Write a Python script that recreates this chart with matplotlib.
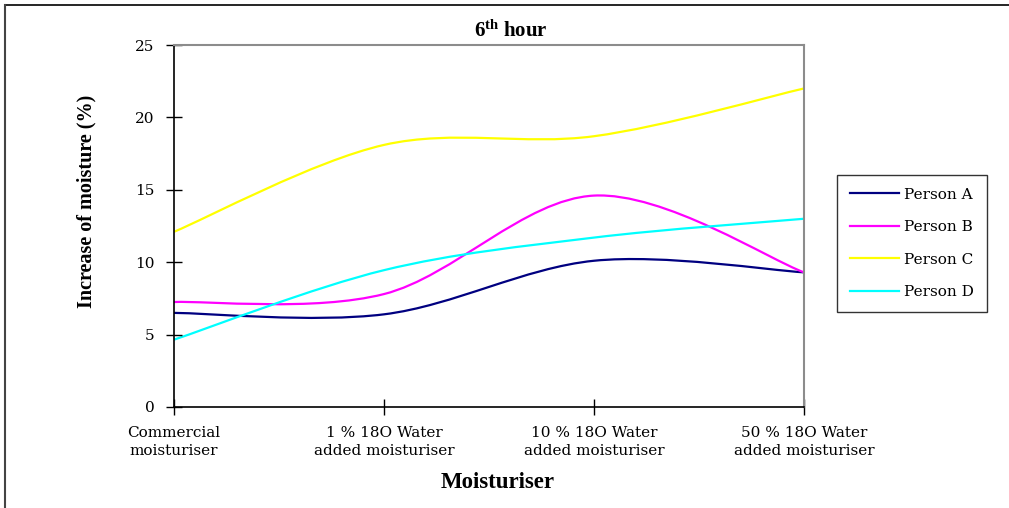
import matplotlib
matplotlib.use('Agg')
import matplotlib.pyplot as plt
from matplotlib.path import Path
from matplotlib.patches import PathPatch
from matplotlib.lines import Line2D

categories = ['Commercial\nmoisturiser',
              '1 % 18O Water\nadded moisturiser',
              '10 % 18O Water\nadded moisturiser',
              '50 % 18O Water\nadded moisturiser']
person_a = [6.5, 6.4, 10.1, 9.3]
person_b = [7.25, 7.8, 14.6, 9.3]
person_c = [12.1, 18.1, 18.7, 22.0]
person_d = [4.65, 9.45, 11.7, 13.0]
names = ['Person A', 'Person B', 'Person C', 'Person D']
colors = ['#000080', '#FF00FF', '#FFFF00', '#00FFFF']

plt.rcParams['mathtext.fontset'] = 'custom'
plt.rcParams['mathtext.bf'] = 'Liberation Serif:bold'
plt.rcParams['mathtext.rm'] = 'Liberation Serif'


def smooth_path(ys):
    # excel-style smoothed line: cubic bezier with catmull-rom control points
    pts = list(zip(range(len(ys)), ys))
    verts = [pts[0]]
    codes = [Path.MOVETO]
    n = len(pts)
    for i in range(n - 1):
        p0 = pts[max(i - 1, 0)]
        p1 = pts[i]
        p2 = pts[i + 1]
        p3 = pts[min(i + 2, n - 1)]
        c1 = (p1[0] + (p2[0] - p0[0]) / 6.0, p1[1] + (p2[1] - p0[1]) / 6.0)
        c2 = (p2[0] - (p3[0] - p1[0]) / 6.0, p2[1] - (p3[1] - p1[1]) / 6.0)
        verts += [c1, c2, p2]
        codes += [Path.CURVE4] * 3
    return Path(verts, codes)


fig = plt.figure(figsize=(10.09, 5.08), dpi=100)
ax = fig.add_axes([174 / 1009, 1 - 407 / 508, 630 / 1009, 362 / 508])

handles = []
for ys, name, c in zip([person_a, person_b, person_c, person_d], names, colors):
    ax.add_patch(PathPatch(smooth_path(ys), facecolor='none', edgecolor=c, lw=1.6))
    handles.append(Line2D([], [], color=c, lw=1.6, label=name))

ax.set_xlim(0, 3)
ax.set_ylim(0, 25)
ax.set_xticks(range(len(categories)))
ax.set_xticklabels(categories, family='DejaVu Serif', fontsize=11, linespacing=1.3)
ax.set_yticks([0, 5, 10, 15, 20, 25])
ax.set_yticklabels(['0', '5', '10', '15', '20', '25'], family='DejaVu Serif', fontsize=11)
ax.tick_params(direction='inout', length=12, width=1, color='black', pad=8)
ax.tick_params(axis='x', pad=8)
for s in ['top', 'right']:
    ax.spines[s].set_color('#8c8c8c')
    ax.spines[s].set_linewidth(1.5)
for s in ['left', 'bottom']:
    ax.spines[s].set_color('black')
    ax.spines[s].set_linewidth(1.2)

fig.text(86 / 1009, 1 - 201 / 508, 'Increase of moisture (%)', rotation=90,
         ha='center', va='center', family='Liberation Serif', weight='bold', fontsize=14.5)
fig.text(498 / 1009, 1 - 482 / 508, 'Moisturiser', ha='center', va='center',
         family='Liberation Serif', weight='bold', fontsize=16.5)
fig.text(511 / 1009, 1 - 37 / 508, r'$\mathbf{6^{th}}$ hour', ha='center', va='baseline',
         family='Liberation Serif', weight='bold', fontsize=15)

leg = fig.legend(handles=handles, loc='center', bbox_to_anchor=(912 / 1009, 1 - 243.5 / 508),
                 prop={'family': 'DejaVu Serif', 'size': 11}, frameon=True, fancybox=False,
                 handlelength=3.2, handletextpad=0.35, labelspacing=1.22, borderpad=0.85,
                 borderaxespad=0)
leg.get_frame().set_edgecolor('black')
leg.get_frame().set_linewidth(1.0)

# outer border of the chart (only top and left visible)
fig.add_artist(Line2D([5 / 1009, 1], [1 - 5 / 508, 1 - 5 / 508], color='black', lw=1.2))
fig.add_artist(Line2D([5 / 1009, 5 / 1009], [0, 1 - 5 / 508], color='#444444', lw=1.5))

fig.savefig('out.png', dpi=100)
